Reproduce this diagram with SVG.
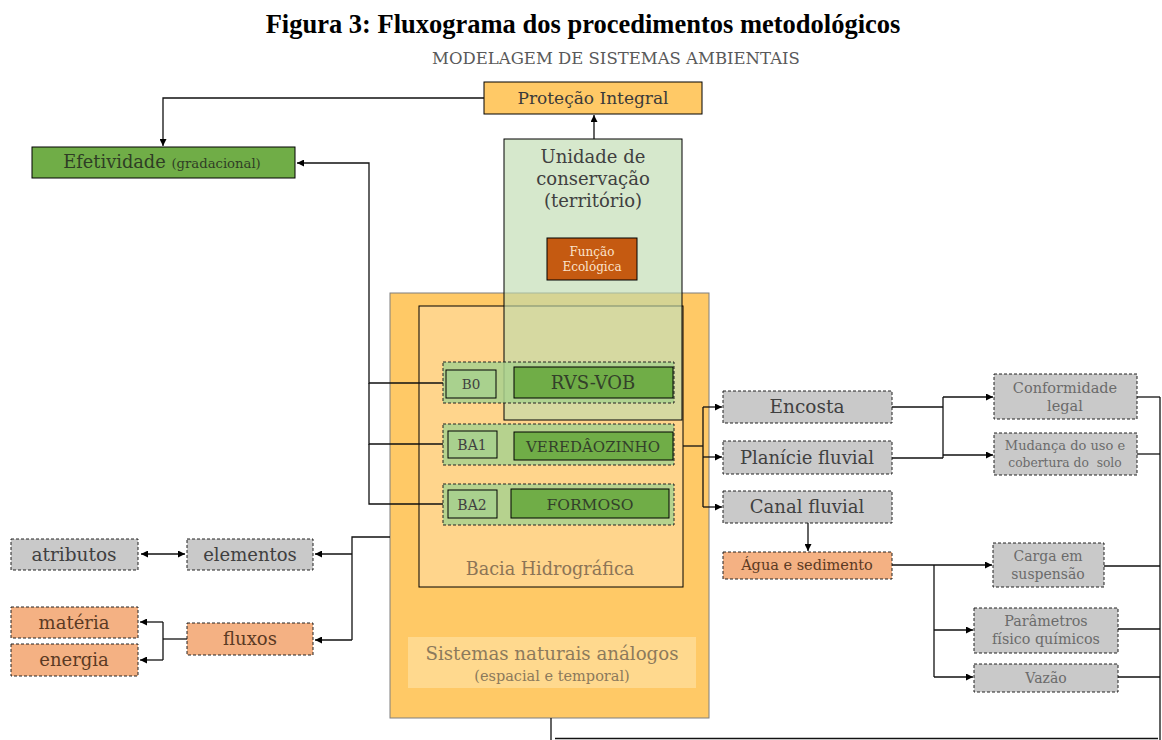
<svg xmlns="http://www.w3.org/2000/svg" width="1162" height="740" viewBox="0 0 1162 740">
<style>
text{font-family:"DejaVu Serif","Liberation Serif",serif;text-anchor:middle}
.title{font-family:"Liberation Serif","Times New Roman",serif;font-weight:bold;font-size:26.5px;fill:#000}
.sub{font-size:16.5px;fill:#595959}
.solid{stroke:#000;stroke-width:1}
.dash{stroke:#222;stroke-width:1;stroke-dasharray:3 2}
.gray{fill:#C9C9C9}
.salmon{fill:#F4B183}
.lg{fill:#A9D18E}
.grp{fill:#A9D18E;fill-opacity:0.85}
.dg{fill:#70AD47}
.t-dark{fill:#404040}
.t-mid{fill:#6b6b6b}
.t-brown{fill:#5b3a24}
.conn path{fill:none;stroke:#111;stroke-width:1.3}
</style>
<defs>
<marker id="ah" viewBox="0 0 8 8" refX="8" refY="4" markerWidth="7" markerHeight="7" markerUnits="userSpaceOnUse" orient="auto-start-reverse">
<path d="M0,0 L8,4 L0,8 z" fill="#000"/>
</marker>
</defs>
<rect width="1162" height="740" fill="#fff"/>
<text class="title" x="583" y="33">Figura 3: Fluxograma dos procedimentos metodológicos</text>
<text class="sub" x="616" y="64">MODELAGEM DE SISTEMAS AMBIENTAIS</text>

<g id="sistemas-naturais">
<rect x="390" y="293" width="319" height="425" fill="#FFC966" stroke="#7f7f7f" stroke-width="1"/>
<rect x="408" y="637" width="288" height="51" fill="#FFD98E"/>
<text x="552" y="660" font-size="18.2" fill="#8c7a5c">Sistemas naturais análogos</text>
<text x="552" y="681" font-size="14.5" fill="#8c7a5c">(espacial e temporal)</text>
</g>
<g id="bacia-hidrografica">
<rect x="419" y="306" width="264" height="281" fill="#FFD58C" stroke="#000" stroke-width="1"/>
<text x="550" y="575" font-size="17.6" fill="#8c7456">Bacia Hidrográfica</text>
</g>

<g id="unidade-conservacao">
<rect x="504" y="139" width="178" height="281" fill="#BEDBAF" fill-opacity="0.63" stroke="#000" stroke-width="1"/>
<text x="593" y="163" font-size="18" class="t-dark">Unidade de</text>
<text x="593" y="185" font-size="18" class="t-dark">conservação</text>
<text x="593" y="207" font-size="18" class="t-dark">(território)</text>
</g>
<g id="funcao-ecologica">
<rect x="547" y="238" width="90" height="42" fill="#C55A11" stroke="#000" stroke-width="1"/>
<text x="592" y="256" font-size="12" fill="#fbe3cc">Função</text>
<text x="592" y="271" font-size="12" fill="#fbe3cc">Ecológica</text>
</g>

<g id="grupo-b0">
<rect x="443" y="362" width="231" height="41" class="grp dash" stroke="#222"/>
<rect x="446" y="370" width="50" height="28" class="lg solid" stroke="#000"/>
<text x="471" y="389" font-size="13.5" class="t-dark">B0</text>
<rect x="514" y="367" width="159" height="31" class="dg solid" stroke="#000"/>
<text x="593" y="389" font-size="18" fill="#33402a">RVS-VOB</text>
</g>
<g id="grupo-ba1">
<rect x="443" y="424" width="231" height="41" class="grp dash" stroke="#222"/>
<rect x="448" y="431" width="49" height="27" class="lg solid" stroke="#000"/>
<text x="472" y="450" font-size="14" class="t-dark">BA1</text>
<rect x="514" y="432" width="159" height="28" class="dg solid" stroke="#000"/>
<text x="593" y="452" font-size="15" fill="#33402a">VEREDÂOZINHO</text>
</g>
<g id="grupo-ba2">
<rect x="443" y="484" width="231" height="41" class="grp dash" stroke="#222"/>
<rect x="448" y="490" width="49" height="28" class="lg solid" stroke="#000"/>
<text x="472" y="510" font-size="14" class="t-dark">BA2</text>
<rect x="511" y="489" width="158" height="29" class="dg solid" stroke="#000"/>
<text x="590" y="510" font-size="15.5" fill="#33402a">FORMOSO</text>
</g>

<g id="protecao-integral">
<rect x="484" y="82" width="218" height="32" fill="#FFC966" stroke="#000" stroke-width="1"/>
<text x="593" y="104" font-size="17" fill="#3a3a3a">Proteção Integral</text>
</g>
<g id="efetividade">
<rect x="32" y="147" width="263" height="31" class="dg" stroke="#000" stroke-width="1"/>
<text x="162" y="168" fill="#2f3d25"><tspan font-size="17.8">Efetividade </tspan><tspan font-size="13.2">(gradacional)</tspan></text>
</g>

<g id="encosta">
<rect x="723" y="391" width="169" height="32" class="gray dash" stroke="#222"/>
<text x="807" y="413" font-size="18.5" class="t-dark">Encosta</text>
</g>
<g id="planicie-fluvial">
<rect x="723" y="441" width="169" height="33" class="gray dash" stroke="#222"/>
<text x="807" y="464" font-size="18" class="t-dark">Planície fluvial</text>
</g>
<g id="canal-fluvial">
<rect x="723" y="491" width="169" height="32" class="gray dash" stroke="#222"/>
<text x="807" y="513" font-size="18" class="t-dark">Canal fluvial</text>
</g>
<g id="agua-sedimento">
<rect x="723" y="552" width="169" height="27" class="salmon dash" stroke="#222"/>
<text x="807" y="570" font-size="14.5" class="t-brown">Água e sedimento</text>
</g>
<g id="conformidade-legal">
<rect x="994" y="374" width="143" height="45" class="gray dash" stroke="#222"/>
<text x="1065" y="393" font-size="14.5" class="t-mid">Conformidade</text>
<text x="1065" y="411" font-size="14.5" class="t-mid">legal</text>
</g>
<g id="mudanca-uso">
<rect x="994" y="433" width="143" height="42" class="gray dash" stroke="#222"/>
<text x="1065" y="450" font-size="13" class="t-mid">Mudança do uso e</text>
<text x="1065" y="467" font-size="12.3" class="t-mid" xml:space="preserve">cobertura do  solo</text>
</g>
<g id="carga-suspensao">
<rect x="993" y="543" width="111" height="44" class="gray dash" stroke="#222"/>
<text x="1048" y="561" font-size="14" class="t-mid">Carga em</text>
<text x="1048" y="579" font-size="14" class="t-mid">suspensão</text>
</g>
<g id="parametros">
<rect x="974" y="608" width="144" height="45" class="gray dash" stroke="#222"/>
<text x="1046" y="626" font-size="14.3" class="t-mid">Parâmetros</text>
<text x="1046" y="644" font-size="14.3" class="t-mid">físico químicos</text>
</g>
<g id="vazao">
<rect x="974" y="664" width="144" height="28" class="gray dash" stroke="#222"/>
<text x="1046" y="683" font-size="14" class="t-mid">Vazão</text>
</g>

<g id="atributos">
<rect x="11" y="539" width="127" height="31" class="gray dash" stroke="#222"/>
<text x="74" y="561" font-size="18.5" class="t-dark">atributos</text>
</g>
<g id="elementos">
<rect x="187" y="539" width="126" height="31" class="gray dash" stroke="#222"/>
<text x="250" y="561" font-size="18" class="t-dark">elementos</text>
</g>
<g id="materia">
<rect x="11" y="607" width="127" height="31" class="salmon dash" stroke="#222"/>
<text x="74" y="629" font-size="18" class="t-brown">matéria</text>
</g>
<g id="energia">
<rect x="11" y="644" width="127" height="32" class="salmon dash" stroke="#222"/>
<text x="74" y="666" font-size="18" class="t-brown">energia</text>
</g>
<g id="fluxos">
<rect x="187" y="623" width="126" height="32" class="salmon dash" stroke="#222"/>
<text x="250" y="645" font-size="18" class="t-brown">fluxos</text>
</g>

<g id="connectors" class="conn">
<path d="M484,98 H163 V146" marker-end="url(#ah)"/>
<path d="M594,139 V115" marker-end="url(#ah)"/>
<path d="M443,383 H369 V163 H297" marker-end="url(#ah)"/>
<path d="M443,444 H369 V383"/>
<path d="M443,504 H369 V444" stroke="#555"/>
<path d="M683,446 H703"/>
<path d="M703,407 V507"/>
<path d="M703,407 H722" marker-end="url(#ah)"/>
<path d="M703,457 H722" marker-end="url(#ah)"/>
<path d="M703,507 H722" marker-end="url(#ah)"/>
<path d="M892,407 H943"/>
<path d="M892,458 H943"/>
<path d="M943,397 V458"/>
<path d="M943,397 H993" marker-end="url(#ah)"/>
<path d="M943,455 H993" marker-end="url(#ah)"/>
<path d="M808,523 V551" marker-end="url(#ah)"/>
<path d="M892,565 H992" marker-end="url(#ah)"/>
<path d="M934,565 V677"/>
<path d="M934,630 H973" marker-end="url(#ah)"/>
<path d="M934,677 H973" marker-end="url(#ah)"/>
<path d="M1137,397 H1160"/>
<path d="M1137,454 H1160"/>
<path d="M1104,566 H1160"/>
<path d="M1118,629 H1160"/>
<path d="M1118,677 H1160"/>
<path d="M1160,397 V740"/>
<path d="M551,718 V740"/>
<path d="M555,738.5 H1158" stroke="#ececec"/>
<path d="M390,537 H352 V640"/>
<path d="M352,554 H315" marker-end="url(#ah)"/>
<path d="M352,640 H315" marker-end="url(#ah)"/>
<path d="M141,554 H185" marker-start="url(#ah)" marker-end="url(#ah)"/>
<path d="M187,639 H163"/>
<path d="M163,622 V660"/>
<path d="M163,622 H140" marker-end="url(#ah)"/>
<path d="M163,660 H140" marker-end="url(#ah)"/>
</g>
</svg>
